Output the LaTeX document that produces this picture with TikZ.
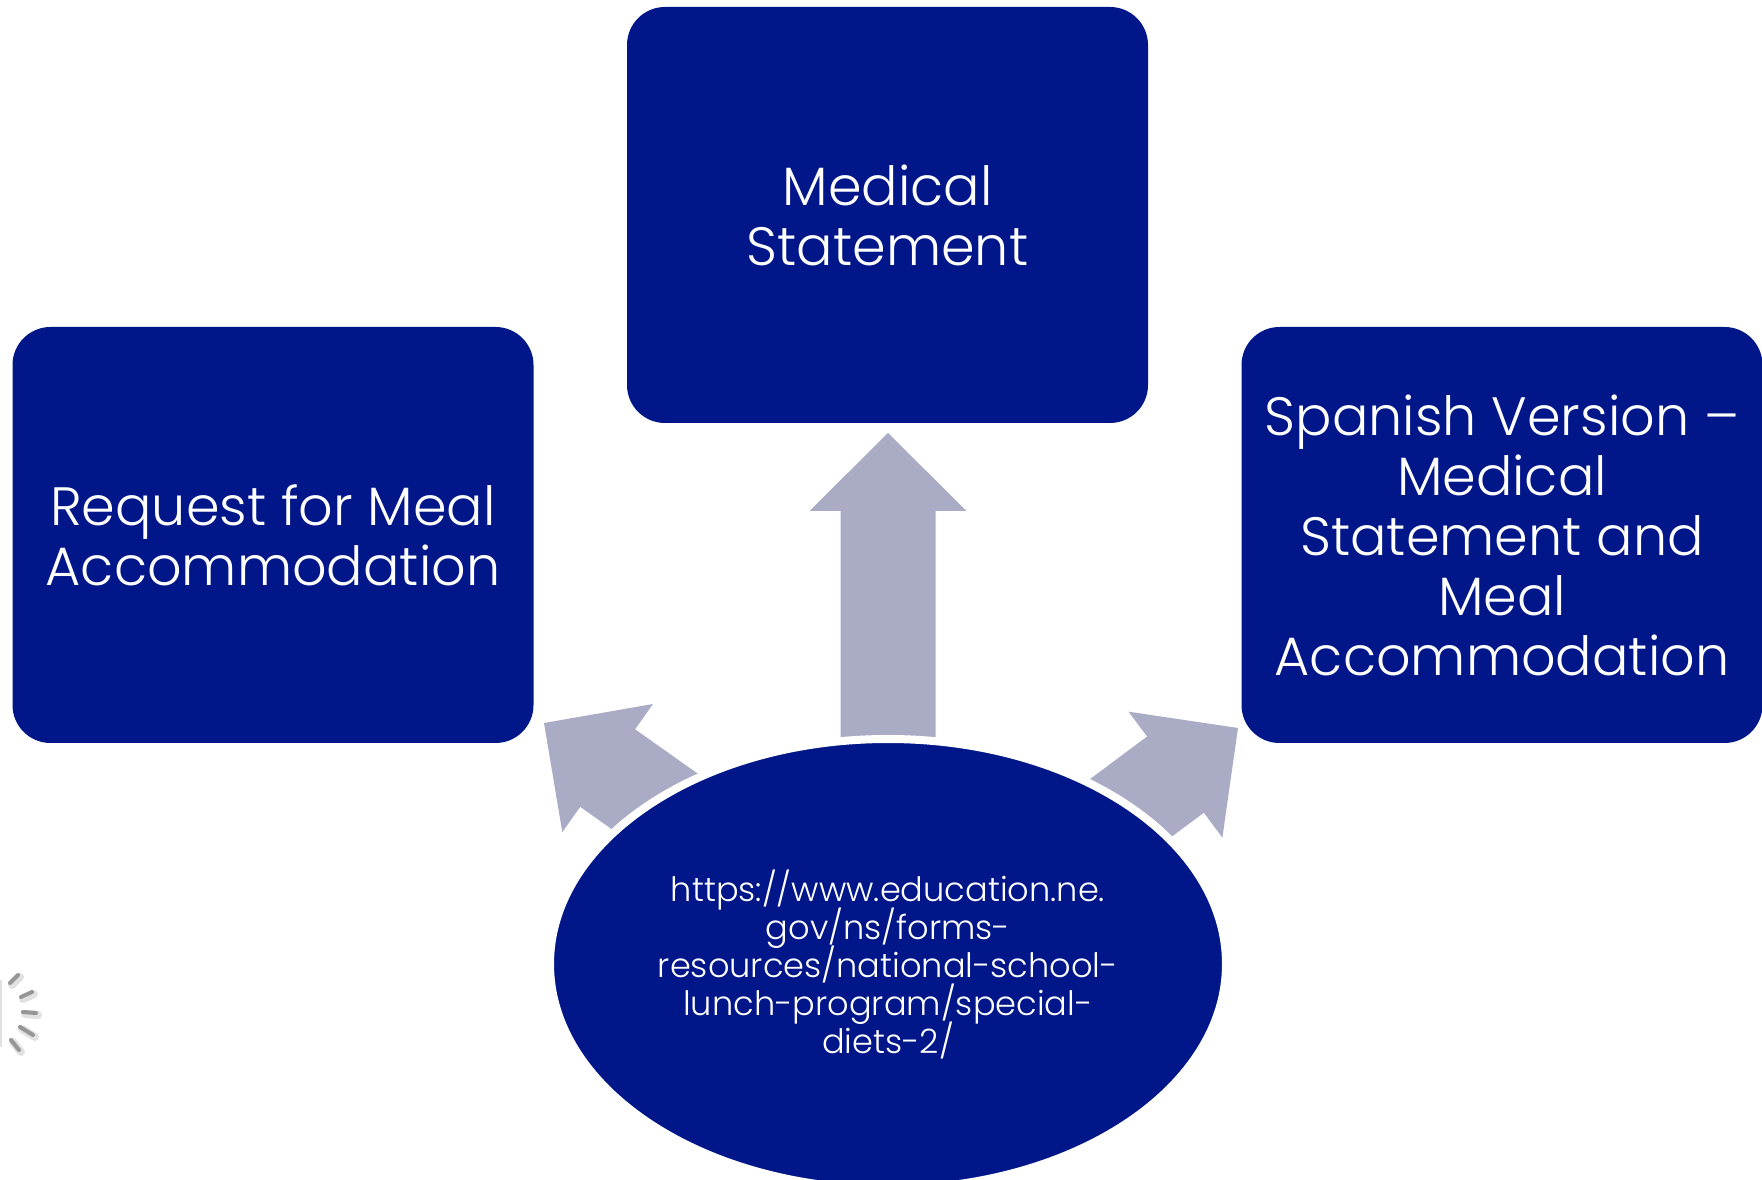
\documentclass[tikz,border=0pt]{standalone}
\usepackage{fontspec}
\setmainfont{Poppins}[UprightFont=* Light]
\usetikzlibrary{shapes.geometric}
\definecolor{boxblue}{RGB}{0,22,137}
\definecolor{arrowgray}{RGB}{170,172,198}
\definecolor{spin}{RGB}{150,150,150}
\definecolor{spinshadow}{RGB}{225,225,225}
\setlength{\lineskiplimit}{-50pt}
\begin{document}
\begin{tikzpicture}[x=0.5pt,y=0.5pt,
  box/.style={fill=boxblue, rounded corners=19pt, minimum width=260.5pt, minimum height=208pt,
    text=white, align=center, font=\fontsize{27}{30}\selectfont, inner sep=0pt},
  urlnode/.style={ellipse, fill=boxblue, draw=white, line width=4pt, minimum width=338pt,
    minimum height=225pt, inner sep=0pt, text=white, align=center,
    font=\fontsize{16.8}{19}\selectfont},
  blockarrow/.style={fill=arrowgray},
  spindash/.style={draw=spin, line width=2pt, line cap=round},
  spinshade/.style={draw=spinshadow, line width=4pt, line cap=round}]
\useasboundingbox (0,0) rectangle (1762,1179);
\fill[white] (0,0) rectangle (1762,1179);

% boxes
\node[box] (med) at (887.5,964) {Medical\\Statement};
\node[box] (req) at (273,644) {Request for Meal\\Accommodation};
\node[box] (spa) at (1502,644) {Spanish Version --\\Medical\\Statement and\\Meal\\Accommodation};

% arrow tips
\coordinate (tipM) at (888,746);
\coordinate (tipL) at (544,456);
\coordinate (tipR) at (1238,451);

\newcommand\blockarrowpath{(0,0) -- (78.5,-78) -- (47.5,-78) -- (47.5,-400) -- (-47.5,-400) -- (-47.5,-78) -- (-78.5,-78) -- cycle}
\begin{scope}[shift={(tipM)}]
  \fill[blockarrow] \blockarrowpath;
\end{scope}
\begin{scope}[shift={(tipL)}, rotate=54.7]
  \fill[blockarrow] \blockarrowpath;
\end{scope}
\begin{scope}[shift={(tipR)}, rotate=-53.3]
  \fill[blockarrow] \blockarrowpath;
\end{scope}

% central ellipse
\node[urlnode] (url) at (888,215) {https://www.education.ne.\\gov/ns/forms-\\resources/national-school-\\lunch-program/special-\\diets-2/};

% spinner
\foreach \xa/\ya/\xb/\yb in {10/196/18/204, 21/182/32/187, 23/167/36/166, 20/152/33/144, 11/139/19/129}{
  \draw[spinshade] (\xa+2,\ya-2) -- (\xb+2,\yb-2);
  \draw[spindash] (\xa,\ya) -- (\xb,\yb);
}
\draw[draw=spinshadow, line width=1pt] (1,199) -- (1,132);
\end{tikzpicture}
\end{document}
